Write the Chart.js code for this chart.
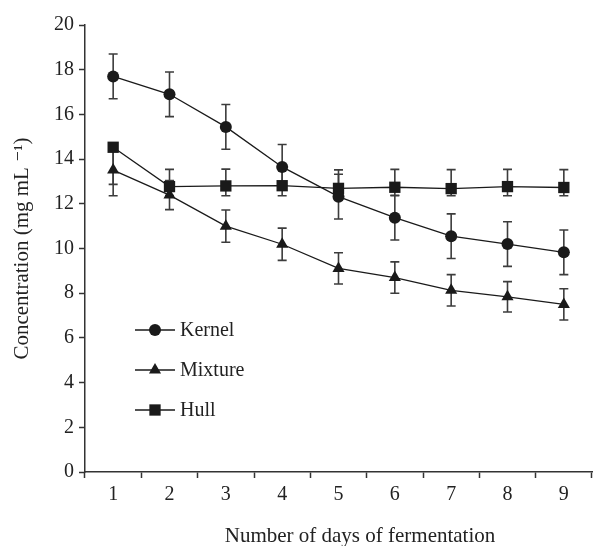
<!DOCTYPE html>
<html>
<head>
<meta charset="utf-8">
<script src="https://cdn.jsdelivr.net/npm/chart.js@4"></script>
<style>
  html, body { margin: 0; padding: 0; background: #fff; overflow: hidden; }
  #wrap { width: 600px; height: 546px; }
</style>
</head>
<body>
<div id="wrap"><canvas id="chart" width="600" height="546"></canvas></div>
<script>
// ===============================
// Data
// ===============================
const days = ["1", "2", "3", "4", "5", "6", "7", "8", "9"];

const kernel = [17.7, 16.9, 15.44, 13.65, 12.32, 11.38, 10.55, 10.2, 9.83];
const kernelErrUp = [1.0, 1.0, 1.0, 1.0, 1.0, 1.0, 1.0, 1.0, 1.0];
const kernelErrDown = [1.0, 1.0, 1.0, 1.0, 1.0, 1.0, 1.0, 1.0, 1.0];

const mixture = [13.51, 12.39, 11.0, 10.19, 9.11, 8.7, 8.13, 7.84, 7.5];
const mixtureErrUp = [1.15, 0.65, 0.72, 0.72, 0.7, 0.7, 0.7, 0.68, 0.7];
const mixtureErrDown = [1.15, 0.65, 0.72, 0.72, 0.7, 0.7, 0.7, 0.68, 0.7];

const hull = [14.53, 12.77, 12.8, 12.81, 12.69, 12.74, 12.68, 12.77, 12.73];
const hullErrUp = [0, 0.77, 0.75, 0.73, 0.83, 0.8, 0.85, 0.77, 0.8];
const hullErrDown = [1.66, 0.4, 0.44, 0.45, 0.33, 0.38, 0.32, 0.41, 0.37];

const seriesNames = ["Kernel", "Mixture", "Hull"];
const xTitle = "Number of days of fermentation";
const yTitle = "Concentration (mg mL \u207B\u00B9)";

const FONT = "'Liberation Serif', 'DejaVu Serif', serif";
const INK = "#1a1a1a";

// ===============================
// Error bars (drawn under the markers)
// ===============================
const errorBars = {
  id: "errorBars",
  beforeDatasetsDraw(chart) {
    const { ctx, scales } = chart;
    const x = scales.x, y = scales.y;
    ctx.save();
    ctx.strokeStyle = "#3c3c3c";
    ctx.lineWidth = 1.6;
    chart.data.datasets.forEach((ds) => {
      ds.data.forEach((v, i) => {
        const px = x.getPixelForValue(i);
        const top = y.getPixelForValue(v + ds.errUp[i]);
        const bot = y.getPixelForValue(v - ds.errDown[i]);
        ctx.beginPath();
        ctx.moveTo(px, top);
        ctx.lineTo(px, bot);
        if (ds.errUp[i] > 0) {
          ctx.moveTo(px - 4.5, top);
          ctx.lineTo(px + 4.5, top);
        }
        if (ds.errDown[i] > 0) {
          ctx.moveTo(px - 4.5, bot);
          ctx.lineTo(px + 4.5, bot);
        }
        ctx.stroke();
      });
    });
    ctx.restore();
  },
};

// ===============================
// Legend inside the plot area + x title
// ===============================
function drawMarker(ctx, style, r, cx, cy) {
  ctx.beginPath();
  if (style === "circle") {
    ctx.arc(cx, cy, r, 0, Math.PI * 2);
  } else if (style === "triangle") {
    ctx.moveTo(cx, cy - r);
    ctx.lineTo(cx + r * Math.sin(Math.PI / 3), cy + r / 2);
    ctx.lineTo(cx - r * Math.sin(Math.PI / 3), cy + r / 2);
    ctx.closePath();
  } else {
    const s = Math.SQRT1_2 * r;
    ctx.rect(cx - s, cy - s, 2 * s, 2 * s);
  }
  ctx.fill();
}

const insideLegend = {
  id: "insideLegend",
  afterDraw(chart) {
    const { ctx } = chart;
    const rows = [330, 370, 410];
    ctx.save();
    chart.data.datasets.forEach((ds, i) => {
      const yy = rows[i];
      ctx.strokeStyle = INK;
      ctx.lineWidth = 1.3;
      ctx.beginPath();
      ctx.moveTo(135, yy);
      ctx.lineTo(175, yy);
      ctx.stroke();
      ctx.fillStyle = INK;
      drawMarker(ctx, ds.pointStyle, ds.pointRadius, 155, yy);
      ctx.fillStyle = "#222";
      ctx.font = "20px " + FONT;
      ctx.textBaseline = "middle";
      ctx.textAlign = "left";
      ctx.fillText(ds.label, 180, yy + 1);
    });

    // x axis title sits right of the plot centre in the original
    ctx.fillStyle = "#222";
    ctx.font = "21px " + FONT;
    ctx.textAlign = "center";
    ctx.textBaseline = "alphabetic";
    ctx.fillText(xTitle, 360, 542);
    ctx.restore();
  },
};

// ===============================
// Chart
// ===============================
function series(label, values, up, down, style, radius) {
  return {
    label,
    data: values,
    errUp: up,
    errDown: down,
    borderColor: INK,
    backgroundColor: INK,
    borderWidth: 1.3,
    pointStyle: style,
    pointRadius: radius,
    pointBackgroundColor: INK,
    pointBorderColor: INK,
    pointBorderWidth: 0,
    tension: 0,
  };
}

new Chart(document.getElementById("chart"), {
  type: "line",
  data: {
    labels: days,
    datasets: [
      series(seriesNames[0], kernel, kernelErrUp, kernelErrDown, "circle", 6),
      series(seriesNames[1], mixture, mixtureErrUp, mixtureErrDown, "triangle", 7),
      series(seriesNames[2], hull, hullErrUp, hullErrDown, "rect", 8),
    ],
  },
  options: {
    responsive: false,
    animation: false,
    layout: { padding: { top: 25, left: 0, right: 0, bottom: 0 } },
    plugins: { legend: { display: false }, tooltip: { enabled: false } },
    scales: {
      x: {
        offset: true,
        grid: { offset: true, drawOnChartArea: false, tickLength: 6, color: "#333", tickWidth: 1.5 },
        border: { color: "#333", width: 1.5 },
        ticks: { color: "#222", font: { family: FONT, size: 20 }, padding: 5 },
        afterFit(scale) {
          scale.height = 74;
          scale.paddingLeft = 0;
          scale.paddingRight = 0;
        },
      },
      y: {
        min: 0,
        max: 20,
        ticks: { stepSize: 2, color: "#222", font: { family: FONT, size: 20 }, padding: 5 },
        grid: { drawOnChartArea: false, tickLength: 6, color: "#333", tickWidth: 1.5 },
        border: { color: "#333", width: 1.5 },
        title: {
          display: true,
          text: yTitle,
          color: "#222",
          font: { family: FONT, size: 21 },
          padding: { top: 10, bottom: 0 },
        },
        afterFit(scale) { scale.width = 85; },
      },
    },
  },
  plugins: [errorBars, insideLegend],
});
</script>
</body>
</html>
